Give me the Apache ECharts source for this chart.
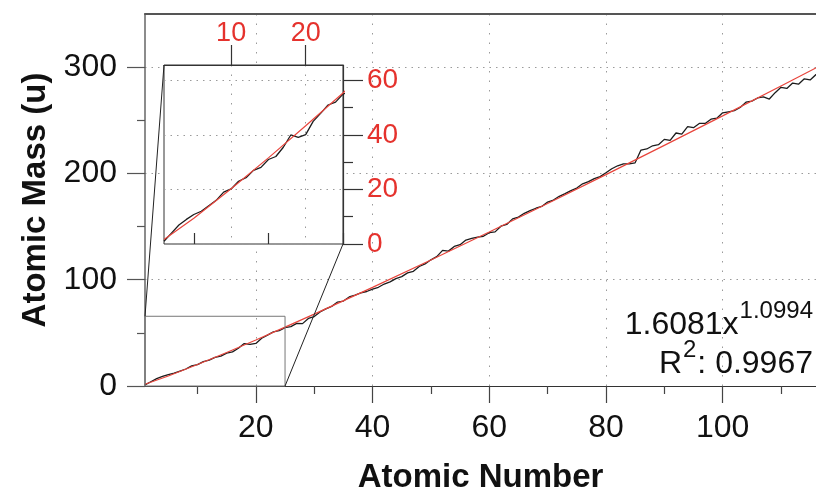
<!DOCTYPE html>
<html><head><meta charset="utf-8">
<script src="https://cdn.jsdelivr.net/npm/echarts@6/dist/echarts.min.js"></script>
<style>html,body{margin:0;padding:0;background:#fff}#c{width:816px;height:491px}</style>
</head><body><div id="c"></div>
<script>
// ---------- data ----------
const atomicNumber = [
  1,2,3,4,5,6,7,8,9,10,11,12,13,14,15,16,17,18,19,20,
  21,22,23,24,25,26,27,28,29,30,31,32,33,34,35,36,37,38,39,40,
  41,42,43,44,45,46,47,48,49,50,51,52,53,54,55,56,57,58,59,60,
  61,62,63,64,65,66,67,68,69,70,71,72,73,74,75,76,77,78,79,80,
  81,82,83,84,85,86,87,88,89,90,91,92,93,94,95,96,97,98,99,100,
  101,102,103,104,105,106,107,108,109,110,111,112,113,114,115,116,117,118
];
const atomicMass = [
  1.008,4.0026,6.94,9.0122,10.81,12.011,14.007,15.999,18.998,20.180,
  22.990,24.305,26.982,28.085,30.974,32.06,35.45,39.948,39.098,40.078,
  44.956,47.867,50.942,51.996,54.938,55.845,58.933,58.693,63.546,65.38,
  69.723,72.630,74.922,78.971,79.904,83.798,85.468,87.62,88.906,91.224,
  92.906,95.95,98,101.07,102.91,106.42,107.87,112.41,114.82,118.71,
  121.76,127.60,126.90,131.29,132.91,137.33,138.91,140.12,140.91,144.24,
  145,150.36,151.96,157.25,158.93,162.50,164.93,167.26,168.93,173.05,
  174.97,178.49,180.95,183.84,186.21,190.23,192.22,195.08,196.97,200.59,
  204.38,207.2,208.98,209,210,222,223,226,227,232.04,
  231.04,238.03,237,244,243,247,247,251,252,257,
  258,259,262,267,268,271,272,270,276,281,
  280,285,284,289,288,293,294,294
];
const fitNumber = [1,5,10,15,20,25,30,40,50,60,70,80,90,100,110,120];
const fitMass   = [1.61,9.44,20.22,31.57,43.32,55.36,67.65,92.82,118.62,144.95,171.72,198.88,226.37,254.18,282.25,310.59];

const xMajorTicks = [20,40,60,80,100];
const xMinorTicks = [10,30,50,70,90,110];
const yMajorTicks = [0,100,200,300];
const yMinorTicks = [50,150,250];
const insetXMajorTicks = [10,20];
const insetXMinorTicks = [5,15,25];
const insetYMajorTicks = [0,20,40,60];
const insetYMinorTicks = [10,30,50];

const mainXRange = [1,116];
const mainYRange = [0,350];
const insetXRange = [1,25];
const insetYRange = [0,65.6];

const xTitle = 'Atomic Number';
const yTitle = 'Atomic Mass (u)';
const fitText = ['1.6081x','1.0994'];
const r2Text = ['R','2',': 0.9967'];

// ---------- chart ----------
const FONT = '"Liberation Sans", Arial, Helvetica, sans-serif';
const RED = '#e5322d';
const INK = '#111';
const pairs = (xs, ys) => xs.map((x,i) => [x, ys[i]]);
const massPairs = pairs(atomicNumber, atomicMass);
const fitPairs = pairs(fitNumber, fitMass);
const boxPairs = [[insetXRange[0],insetYRange[0]],[insetXRange[1],insetYRange[0]],[insetXRange[1],insetYRange[1]],[insetXRange[0],insetYRange[1]],[insetXRange[0],insetYRange[0]]];

const dotH = {show:true, lineStyle:{color:'#9a9a9a', width:1, type:[1.5,5]}};
const dotV = {show:true, lineStyle:{color:'#9a9a9a', width:1, type:[1.5,8]}};

function ax(o){
  return Object.assign({type:'value', axisLine:{show:false}, axisTick:{show:false}, axisLabel:{show:false}, splitLine:{show:false}}, o);
}

const chart = echarts.init(document.getElementById('c'), null, {renderer:'canvas'});
chart.setOption({
  animation:false,
  backgroundColor:'#fff',
  grid:[
    {left:145, top:14, right:0, bottom:105, outerBoundsMode:'none', containLabel:false},
    {left:164, top:65, width:179, height:179, outerBoundsMode:'none', containLabel:false, show:true, backgroundColor:'#fff', borderColor:'#333', borderWidth:1, z:5}
  ],
  xAxis:[
    ax({gridIndex:0, position:'bottom', min:mainXRange[0], max:mainXRange[1],
      name:xTitle, nameLocation:'middle', nameGap:75,
      nameTextStyle:{fontFamily:FONT, fontSize:33, fontWeight:'bold', color:INK},
      axisLine:{show:true, onZero:false, lineStyle:{color:'#333', width:1.2}},
      axisTick:{show:true, inside:false, length:17, customValues:xMajorTicks, lineStyle:{color:'#444', width:1.2}},
      axisLabel:{show:true, customValues:xMajorTicks, margin:26, fontFamily:FONT, fontSize:32, color:INK},
      splitLine:dotV, z:1}),
    ax({gridIndex:0, position:'bottom', min:mainXRange[0], max:mainXRange[1],
      axisTick:{show:true, inside:false, length:8, customValues:xMinorTicks, lineStyle:{color:'#444', width:1.2}}, z:1}),
    ax({gridIndex:0, position:'top', min:mainXRange[0], max:mainXRange[1],
      axisLine:{show:true, onZero:false, lineStyle:{color:'#555', width:2}}, z:1}),
    ax({gridIndex:1, position:'top', min:insetXRange[0], max:insetXRange[1],
      axisLine:{show:true, onZero:false, lineStyle:{color:'#333', width:1.2}},
      axisTick:{show:true, inside:false, length:20, customValues:insetXMajorTicks, lineStyle:{color:'#333', width:1.2}},
      axisLabel:{show:true, customValues:insetXMajorTicks, margin:18, fontFamily:FONT, fontSize:27, color:RED},
      splitLine:dotV, z:6}),
    ax({gridIndex:1, position:'top', min:insetXRange[0], max:insetXRange[1],
      axisTick:{show:true, inside:false, length:11, customValues:insetXMinorTicks, lineStyle:{color:'#333', width:1.2}}, z:6})
  ],
  yAxis:[
    ax({gridIndex:0, position:'left', min:mainYRange[0], max:mainYRange[1],
      name:yTitle, nameLocation:'middle', nameRotate:90, nameGap:78,
      nameTextStyle:{fontFamily:FONT, fontSize:33, fontWeight:'bold', color:INK},
      axisLine:{show:true, onZero:false, lineStyle:{color:'#666', width:1.5}},
      axisTick:{show:true, inside:false, length:18, customValues:yMajorTicks, lineStyle:{color:'#555', width:1.2}},
      axisLabel:{show:true, customValues:yMajorTicks, margin:28, fontFamily:FONT, fontSize:32, color:INK},
      splitLine:dotH, z:1}),
    ax({gridIndex:0, position:'left', min:mainYRange[0], max:mainYRange[1],
      axisTick:{show:true, inside:false, length:8, customValues:yMinorTicks, lineStyle:{color:'#555', width:1.2}}, z:1}),
    ax({gridIndex:1, position:'right', min:insetYRange[0], max:insetYRange[1],
      axisLine:{show:true, onZero:false, lineStyle:{color:'#333', width:1.2}},
      axisTick:{show:true, inside:false, length:20, customValues:insetYMajorTicks, lineStyle:{color:'#333', width:1.2}},
      axisLabel:{show:true, customValues:insetYMajorTicks, margin:24, fontFamily:FONT, fontSize:28, color:RED},
      splitLine:dotH, z:6}),
    ax({gridIndex:1, position:'right', min:insetYRange[0], max:insetYRange[1],
      axisTick:{show:true, inside:false, length:10, customValues:insetYMinorTicks, lineStyle:{color:'#333', width:1.2}}, z:6})
  ],
  series:[
    {type:'line', xAxisIndex:0, yAxisIndex:0, data:massPairs, symbol:'none', lineStyle:{color:'#1c1c1c', width:1.3}, z:2},
    {type:'line', xAxisIndex:0, yAxisIndex:0, data:fitPairs, symbol:'none', lineStyle:{color:'#e8453c', width:1.2}, z:3},
    {type:'line', xAxisIndex:0, yAxisIndex:0, data:boxPairs, symbol:'none', clip:false, lineStyle:{color:'#777', width:1}, z:4},
    {type:'line', xAxisIndex:3, yAxisIndex:2, data:massPairs, symbol:'none', lineStyle:{color:'#1c1c1c', width:1.3}, z:7},
    {type:'line', xAxisIndex:3, yAxisIndex:2, data:fitPairs, symbol:'none', lineStyle:{color:'#e8453c', width:1.2}, z:8}
  ]
});

// connectors between inset and zoom box, positioned through the axes' own scales
const pTL = chart.convertToPixel({xAxisIndex:3, yAxisIndex:2}, [insetXRange[0], insetYRange[1]]);
const qTL = chart.convertToPixel({xAxisIndex:0, yAxisIndex:0}, [insetXRange[0], insetYRange[1]]);
const pBR = chart.convertToPixel({xAxisIndex:3, yAxisIndex:2}, [insetXRange[1], insetYRange[0]]);
const qBR = chart.convertToPixel({xAxisIndex:0, yAxisIndex:0}, [insetXRange[1], insetYRange[0]]);

// fit annotation with superscripts
const mctx = document.createElement('canvas').getContext('2d');
function tw(t, size){ mctx.font = size + 'px ' + FONT; return mctx.measureText(t).width; }
const BIG = 32, SUP = 24, RX = 813;
function txt(t, size, x, y){
  return {type:'text', z:20, x:x, y:y, style:{text:t, fontFamily:FONT, fontSize:size, fill:INK, align:'right', verticalAlign:'middle'}};
}
const supW = tw(fitText[1], SUP);
const r2W = tw(r2Text[2], BIG);
const twoW = tw(r2Text[1], SUP);

chart.setOption({
  graphic:[
    {type:'line', z:20, shape:{x1:pTL[0], y1:pTL[1], x2:qTL[0], y2:qTL[1]}, style:{stroke:'#222', lineWidth:1}},
    {type:'line', z:20, shape:{x1:pBR[0], y1:pBR[1], x2:qBR[0], y2:qBR[1]}, style:{stroke:'#222', lineWidth:1}},
    txt(fitText[1], SUP, RX, 311),
    txt(fitText[0], BIG, RX - supW - 1, 325),
    txt(r2Text[2], BIG, RX, 364),
    txt(r2Text[1], SUP, RX - r2W - 1, 350),
    txt(r2Text[0], BIG, RX - r2W - twoW - 2, 364)
  ]
});
</script></body></html>
